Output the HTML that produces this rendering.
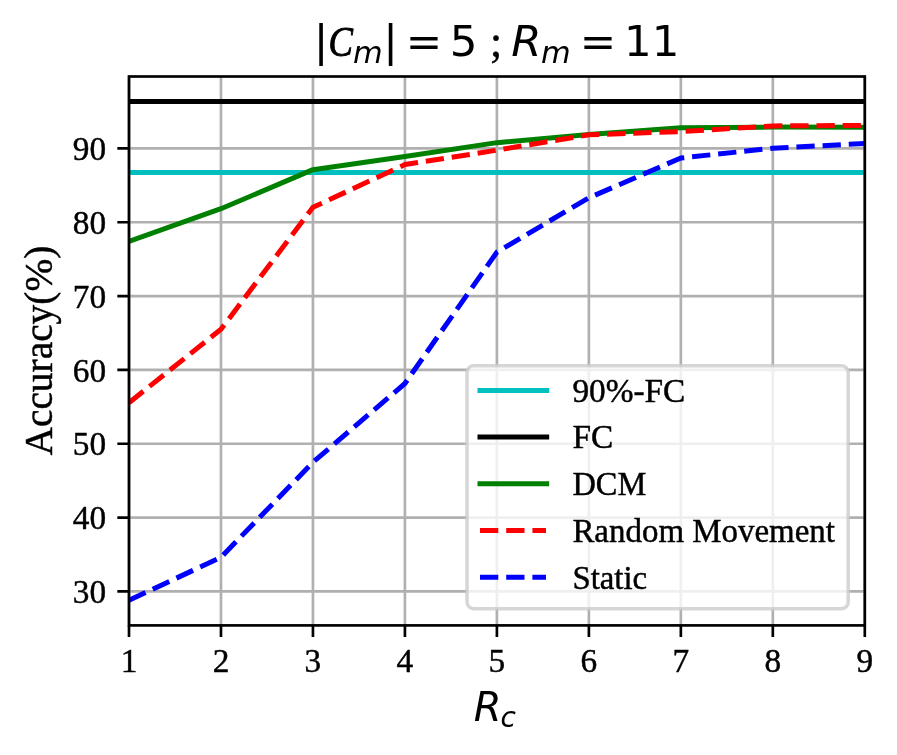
<!DOCTYPE html>
<html lang="en"><head><meta charset="utf-8"><title>Accuracy vs Rc</title>
<style>html,body{margin:0;padding:0;background:#fff}body{width:897px;height:755px;overflow:hidden}svg{display:block}.tk{font-family:"Liberation Serif", serif;font-size:34.3px;fill:#000;stroke:#000;stroke-width:.45px}.lg{font-family:"Liberation Serif", serif;font-size:33.33px;fill:#000;stroke:#000;stroke-width:.45px}.yl{font-family:"Liberation Serif", serif;font-size:40px;fill:#000;stroke:#000;stroke-width:.45px}.m{font-family:"DejaVu Sans", "Liberation Sans", sans-serif;fill:#000}.it{font-style:italic}</style></head><body>
<svg width="897" height="755" viewBox="0 0 897 755">
<rect width="897" height="755" fill="#fff"/>
<defs><clipPath id="ax"><rect x="129.00" y="76.50" width="735.80" height="548.90"/></clipPath></defs>
<path d="M129.00 76.50V625.40M220.97 76.50V625.40M312.95 76.50V625.40M404.92 76.50V625.40M496.90 76.50V625.40M588.88 76.50V625.40M680.85 76.50V625.40M772.82 76.50V625.40M864.80 76.50V625.40M129.00 591.40H864.80M129.00 517.57H864.80M129.00 443.73H864.80M129.00 369.90H864.80M129.00 296.07H864.80M129.00 222.23H864.80M129.00 148.40H864.80" stroke="#b0b0b0" stroke-width="2.67" fill="none"/>
<g clip-path="url(#ax)" fill="none" stroke-width="5" stroke-linejoin="round">
<path d="M129.00 172.62H864.80" stroke="#00bfbf" stroke-linecap="square"/>
<path d="M129.00 101.44H864.80" stroke="#000" stroke-linecap="square"/>
<polyline points="129.00,241.36 220.97,208.72 312.95,169.66 404.92,156.52 496.90,142.64 588.88,134.52 680.85,127.80 772.82,127.06 864.80,127.36" stroke="#008000" stroke-linecap="square"/>
<polyline points="129.00,402.68 220.97,329.29 312.95,207.32 404.92,164.57 496.90,150.17 588.88,134.81 680.85,131.57 772.82,125.88 864.80,125.44" stroke="#f00" stroke-dasharray="18.3 7.9"/>
<polyline points="129.00,600.33 220.97,557.29 312.95,462.26 404.92,383.48 496.90,252.14 588.88,197.79 680.85,158.00 772.82,148.25 864.80,143.45" stroke="#00f" stroke-dasharray="18.3 7.9"/>
</g>
<path d="M129.00 625.40v11.67M220.97 625.40v11.67M312.95 625.40v11.67M404.92 625.40v11.67M496.90 625.40v11.67M588.88 625.40v11.67M680.85 625.40v11.67M772.82 625.40v11.67M864.80 625.40v11.67M129.00 591.40h-11.67M129.00 517.57h-11.67M129.00 443.73h-11.67M129.00 369.90h-11.67M129.00 296.07h-11.67M129.00 222.23h-11.67M129.00 148.40h-11.67" stroke="#000" stroke-width="2.67" fill="none"/>
<rect x="129.00" y="76.50" width="735.80" height="548.90" fill="none" stroke="#000" stroke-width="2.67" stroke-linejoin="miter"/>
<text class="tk" x="120.67" y="671.9" textLength="16.67" lengthAdjust="spacingAndGlyphs">1</text>
<text class="tk" x="212.64" y="671.9" textLength="16.67" lengthAdjust="spacingAndGlyphs">2</text>
<text class="tk" x="304.62" y="671.9" textLength="16.67" lengthAdjust="spacingAndGlyphs">3</text>
<text class="tk" x="396.59" y="671.9" textLength="16.67" lengthAdjust="spacingAndGlyphs">4</text>
<text class="tk" x="488.57" y="671.9" textLength="16.67" lengthAdjust="spacingAndGlyphs">5</text>
<text class="tk" x="580.54" y="671.9" textLength="16.67" lengthAdjust="spacingAndGlyphs">6</text>
<text class="tk" x="672.52" y="671.9" textLength="16.67" lengthAdjust="spacingAndGlyphs">7</text>
<text class="tk" x="764.49" y="671.9" textLength="16.67" lengthAdjust="spacingAndGlyphs">8</text>
<text class="tk" x="856.47" y="671.9" textLength="16.67" lengthAdjust="spacingAndGlyphs">9</text>
<text class="tk" x="72.87" y="603.10" textLength="33.33" lengthAdjust="spacingAndGlyphs">30</text>
<text class="tk" x="72.87" y="529.27" textLength="33.33" lengthAdjust="spacingAndGlyphs">40</text>
<text class="tk" x="72.87" y="455.43" textLength="33.33" lengthAdjust="spacingAndGlyphs">50</text>
<text class="tk" x="72.87" y="381.60" textLength="33.33" lengthAdjust="spacingAndGlyphs">60</text>
<text class="tk" x="72.87" y="307.77" textLength="33.33" lengthAdjust="spacingAndGlyphs">70</text>
<text class="tk" x="72.87" y="233.93" textLength="33.33" lengthAdjust="spacingAndGlyphs">80</text>
<text class="tk" x="72.87" y="160.10" textLength="33.33" lengthAdjust="spacingAndGlyphs">90</text>
<text class="yl" transform="translate(52 455.5) rotate(-90)" textLength="209.8" lengthAdjust="spacingAndGlyphs">Accuracy(%)</text>
<text class="m it" y="720.8"><tspan x="473.8" font-size="40">R</tspan><tspan x="500.5" dy="6.4" font-size="28">c</tspan></text>
<text class="m" y="56.3" font-size="43.5"><tspan x="313.7">|</tspan><tspan class="it" x="328.6" font-size="43" textLength="24.4" lengthAdjust="spacingAndGlyphs" stroke="#000" stroke-width=".9" style="font-family:'Liberation Serif', serif">C</tspan><tspan class="it" x="353" dy="7" font-size="30.45">m</tspan><tspan x="383.3" dy="-7">|</tspan><tspan x="405.8">= </tspan><tspan x="449.8">5</tspan><tspan x="490" stroke="#000" stroke-width=".5" style="font-family:'Liberation Serif', serif">; </tspan><tspan class="it" x="511.3">R</tspan><tspan class="it" x="541" dy="7" font-size="30.45">m</tspan><tspan x="579.8" dy="-7">= </tspan><tspan x="624.1">11</tspan></text>
<rect x="467.00" y="365.80" width="381.20" height="242.90" rx="6.67" fill="#fff" fill-opacity="0.8" stroke="#ccc" stroke-opacity="0.8" stroke-width="3.5"/>
<path d="M480 390.40H546.67" stroke="#00bfbf" stroke-width="5" stroke-linecap="square" fill="none"/>
<text class="lg" x="572.4" y="401.70">90%-FC</text>
<path d="M480 437.10H546.67" stroke="#000" stroke-width="5" stroke-linecap="square" fill="none"/>
<text class="lg" x="572.4" y="448.40">FC</text>
<path d="M480 483.70H546.67" stroke="#008000" stroke-width="5" stroke-linecap="square" fill="none"/>
<text class="lg" x="572.4" y="495.00" textLength="73.8" lengthAdjust="spacingAndGlyphs">DCM</text>
<path d="M480 530.40H546" stroke="#f00" stroke-width="5" stroke-dasharray="18.3 7.9" fill="none"/>
<text class="lg" x="572.4" y="541.70" textLength="262.6" lengthAdjust="spacingAndGlyphs">Random Movement</text>
<path d="M480 577.20H546" stroke="#00f" stroke-width="5" stroke-dasharray="18.3 7.9" fill="none"/>
<text class="lg" x="572.4" y="588.50" textLength="74.7" lengthAdjust="spacingAndGlyphs">Static</text>
</svg></body></html>
